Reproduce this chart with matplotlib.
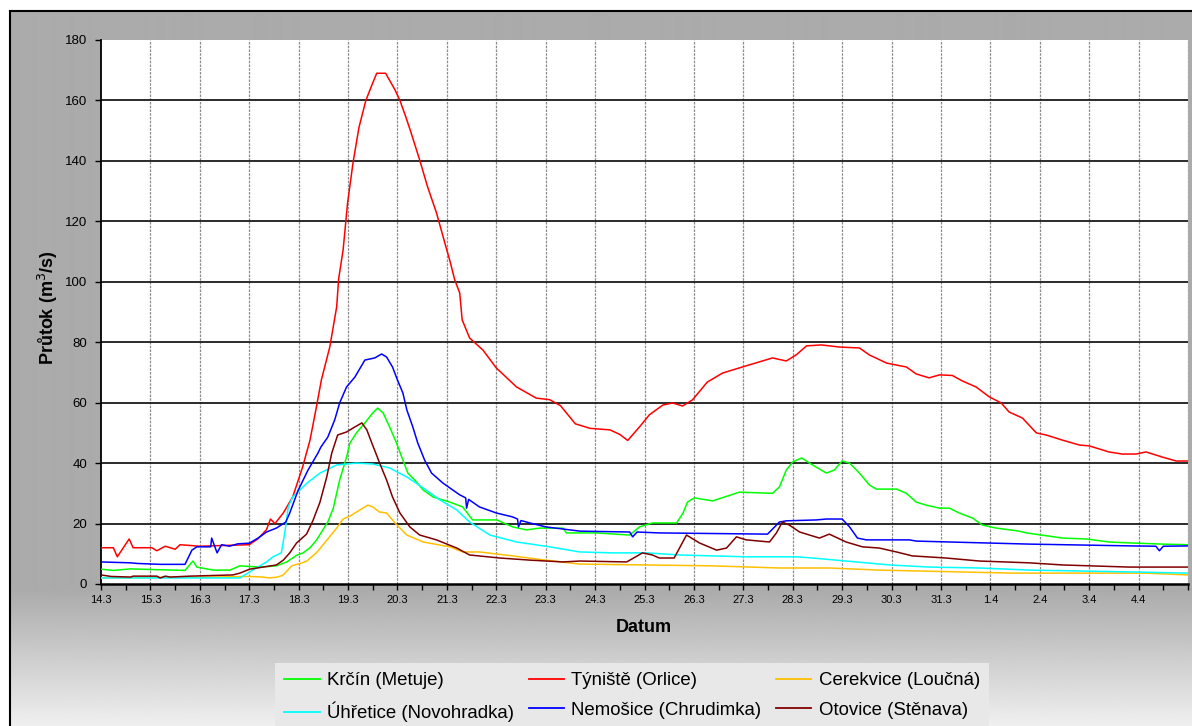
# flow chart - průtoky březen/duben
import numpy as np
import matplotlib
matplotlib.use("Agg")
import matplotlib.pyplot as plt
from matplotlib.ticker import MultipleLocator


# DATA (days counted from 14.3)

tick_labels = ["14.3", "15.3", "16.3", "17.3", "18.3", "19.3", "20.3", "21.3", "22.3", "23.3",
               "24.3", "25.3", "26.3", "27.3", "28.3", "29.3", "30.3", "31.3", "1.4", "2.4",
               "3.4", "4.4", ""]

krcin_days = [0, 0.25, 0.6, 1.0, 1.7, 1.86, 1.94, 2.27, 2.61, 2.81, 3.22, 3.55, 3.76, 3.96, 4.09,
              4.23, 4.36, 4.59, 4.7, 4.83, 4.97, 5.04, 5.17, 5.34, 5.5, 5.6, 5.71, 5.84, 5.98,
              6.11, 6.21, 6.35, 6.52, 6.72, 7.06, 7.32, 7.52, 8.01, 8.33, 8.61, 8.88, 9.35, 9.42,
              10.03, 10.7, 10.9, 11.16, 11.65, 11.78, 11.87, 12.01, 12.38, 12.92, 13.59, 13.73,
              13.87, 14.0, 14.18, 14.4, 14.68, 14.84, 15.0, 15.15, 15.35, 15.55, 15.69, 16.1,
              16.3, 16.5, 16.7, 16.97, 17.17, 17.37, 17.64, 17.84, 18.12, 18.58, 18.73, 19.46,
              19.94, 20.4, 20.81, 21.48, 22]
krcin = [4.9, 4.5, 5.0, 4.8, 4.5, 7.6, 5.6, 4.6, 4.6, 6.0, 5.6, 6.0, 7.3, 9.5, 10.3,
         12.0, 14.5, 20.5, 25.0, 34.4, 42.0, 46.7, 50.0, 53.3, 56.6, 58.2, 56.6, 52.0, 46.7,
         41.0, 36.7, 34.4, 31.1, 28.8, 27.1, 25.5, 21.2, 21.2, 18.9, 17.9, 18.5, 18.5, 16.9,
         16.9, 16.2, 18.9, 20.2, 20.2, 23.5, 27.1, 28.5, 27.5, 30.4, 30.0, 32.1,
         37.7, 40.4, 41.7, 39.4, 36.7, 37.7, 40.7, 40.0, 36.7, 32.8, 31.4, 31.4,
         30.0, 27.1, 26.1, 25.1, 25.1, 23.5, 21.8, 19.5, 18.5, 17.5, 16.9, 15.2,
         14.9, 13.9, 13.6, 13.2, 13.0]

tyniste_days = [0, 0.25, 0.33, 0.57, 0.65, 1.03, 1.13, 1.3, 1.5, 1.6, 2.0, 3.0, 3.18, 3.35, 3.43,
                3.52, 3.69, 3.88, 4.08, 4.23, 4.36, 4.46, 4.63, 4.77, 4.81, 4.9, 4.99, 5.1, 5.22,
                5.36, 5.48, 5.58, 5.76, 5.95, 6.05, 6.17, 6.27, 6.45, 6.61, 6.79, 6.96, 7.06, 7.16,
                7.26, 7.31, 7.46, 7.73, 8.0, 8.41, 8.81, 9.08, 9.3, 9.6, 9.9, 10.3, 10.5, 10.66,
                10.9, 11.1, 11.37, 11.57, 11.77, 11.97, 12.27, 12.58, 12.98, 13.59, 13.87, 14.07,
                14.28, 14.58, 14.95, 15.35, 15.55, 15.9, 16.3, 16.5, 16.76, 16.97, 17.23, 17.43,
                17.71, 17.98, 18.22, 18.38, 18.65, 18.93, 19.13, 19.46, 19.8, 20.0, 20.4, 20.67,
                20.95, 21.15, 21.48, 21.76, 22]
tyniste = [12.0, 12.0, 9.0, 14.9, 12.0, 12.0, 11.0, 12.5, 11.5, 13.0, 12.5, 13.0, 15.0, 18.0, 21.5,
           20.0, 23.5, 28.8, 38.7, 47.6, 58.6, 67.5, 78.4, 91.7, 101.0, 110.5, 126.0, 139.3, 151.0,
           160.0, 165.0, 169.0, 169.0, 163.5, 160.0, 154.5, 149.6, 140.3, 131.4, 122.8, 112.8, 107.0, 100.6,
           96.3, 87.4, 81.4, 77.4, 71.5, 65.2, 61.5, 61.0, 59.0, 53.0, 51.5, 51.0, 49.5, 47.5,
           52.0, 56.0, 59.2, 59.9, 58.9, 60.9, 66.8, 69.8, 71.8, 74.8, 73.8, 75.8,
           78.8, 79.1, 78.4, 78.1, 75.8, 73.1, 71.8, 69.5, 68.2, 69.2, 69.0, 67.2,
           65.2, 61.9, 59.9, 56.9, 54.9, 50.0, 49.3, 47.6, 46.0, 45.7, 43.7, 43.0,
           43.0, 43.7, 42.0, 40.7, 40.7]

cerekvice_days = [0, 2.27, 3.0, 3.28, 3.4, 3.58, 3.69, 3.86, 4.03, 4.16, 4.37, 4.57, 4.77, 4.9,
                  5.04, 5.24, 5.4, 5.5, 5.64, 5.78, 5.95, 6.19, 6.52, 7.06, 7.32, 7.66, 8.33, 9.0,
                  9.69, 11.04, 12.38, 13.73, 14.74, 15.75, 18.44, 21.15, 22]
cerekvice = [2.0, 2.3, 2.5, 2.3, 2.0, 2.3, 3.0, 6.0, 6.8, 7.5, 10.5, 14.5, 18.5, 21.5,
             22.5, 24.5, 26.1, 25.5, 23.8, 23.5, 20.2, 16.2, 13.9, 12.3, 10.6, 10.6, 9.3, 7.9,
             6.6, 6.3, 6.0, 5.3, 5.3, 4.6, 3.6, 3.6, 3.0]

uhretice_days = [0, 2.81, 3.01, 3.35, 3.48, 3.65, 3.72, 3.79, 3.88, 4.17, 4.43, 4.77, 5.17, 5.5,
                 5.84, 6.19, 6.52, 6.86, 7.2, 7.46, 7.87, 8.41, 9.08, 9.69, 10.35, 11.04, 11.71,
                 12.38, 13.06, 14.07, 14.4, 15.08, 15.96, 16.76, 17.78, 18.79, 19.8, 20.81, 22]
uhretice = [2.0, 2.0, 4.0, 7.3, 9.0, 10.3, 17.0, 25.5, 28.8, 33.4, 36.7, 39.4, 40.0, 39.7,
            38.4, 35.4, 31.8, 27.8, 24.5, 20.5, 16.2, 13.9, 12.3, 10.6, 10.3, 10.3, 9.6,
            9.3, 9.0, 9.0, 8.6, 7.6, 6.3, 5.6, 5.3, 4.6, 4.3, 4.0, 3.6]

nemosice_days = [0, 0.6, 0.73, 1.2, 1.7, 1.84, 1.94, 2.22, 2.24, 2.3, 2.35, 2.44, 2.6, 2.77, 3.0,
                 3.18, 3.35, 3.55, 3.74, 3.82, 3.99, 4.19, 4.39, 4.45, 4.59, 4.73, 4.83, 4.97,
                 5.14, 5.34, 5.54, 5.68, 5.78, 5.9, 6.0, 6.11, 6.19, 6.31, 6.41, 6.55, 6.69, 6.92,
                 7.12, 7.26, 7.38, 7.4, 7.44, 7.66, 8.0, 8.33, 8.43, 8.45, 8.5, 8.68, 9.0, 9.69,
                 10.7, 10.76, 10.85, 11.3, 13.49, 13.73, 13.87, 14.48, 14.68, 15.0, 15.15, 15.31,
                 15.49, 16.36, 16.5, 17.17, 18.79, 20.87, 21.35, 21.42, 21.5, 22]
nemosice = [7.3, 7.0, 6.8, 6.5, 6.5, 11.2, 12.3, 12.3, 15.2, 12.5, 10.3, 13.0, 12.5, 13.3, 13.5,
            15.2, 17.2, 18.5, 20.5, 23.5, 31.0, 37.7, 43.3, 45.3, 48.6, 54.3, 59.9, 65.2,
            68.5, 74.1, 74.8, 76.1, 75.1, 71.8, 67.5, 63.2, 57.6, 52.0, 46.7, 41.0, 36.7, 33.4,
            31.1, 29.5, 28.5, 25.1, 28.0, 25.5, 23.5, 22.2, 21.5, 18.9, 21.0, 20.2, 18.9, 17.5,
            17.2, 15.6, 17.2, 16.9, 16.5, 20.5, 20.9, 21.2, 21.5, 21.5, 18.9, 15.2,
            14.6, 14.6, 14.2, 13.9, 13.2, 12.6, 12.5, 11.0, 12.5, 12.6]

otovice_days = [0, 0.2, 0.6, 0.65, 1.13, 1.2, 1.3, 1.4, 1.8, 2.67, 2.81, 3.01, 3.28, 3.55, 3.69,
                3.82, 3.96, 4.16, 4.29, 4.43, 4.57, 4.67, 4.79, 4.97, 5.1, 5.28, 5.38, 5.48, 5.64,
                5.78, 5.9, 6.05, 6.25, 6.45, 6.79, 7.2, 7.46, 8.07, 8.68, 9.35, 9.69, 10.64, 10.96,
                11.16, 11.3, 11.6, 11.85, 12.11, 12.46, 12.66, 12.86, 13.06, 13.53, 13.67, 13.79,
                13.93, 14.14, 14.54, 14.74, 15.08, 15.41, 15.75, 16.1, 16.42, 17.1, 17.78, 18.79,
                19.46, 20.81, 22]
otovice = [3.0, 2.5, 2.3, 2.6, 2.6, 2.0, 2.6, 2.3, 2.6, 3.0, 3.6, 4.9, 5.6, 6.3, 7.9,
           10.3, 13.6, 16.5, 21.0, 27.0, 35.5, 43.3, 49.3, 50.3, 51.6, 53.3, 51.0, 46.7, 40.0,
           34.4, 28.8, 23.5, 18.9, 16.2, 14.6, 11.9, 9.6, 8.6, 7.9, 7.3, 7.6, 7.3, 10.3,
           9.6, 8.6, 8.6, 16.2, 13.6, 11.2, 11.9, 15.6, 14.6, 13.9, 16.9, 20.5,
           19.5, 17.2, 15.2, 16.5, 13.9, 12.3, 11.9, 10.6, 9.3, 8.6, 7.6, 7.0,
           6.3, 5.6, 5.6]

series = [
    ("Krčín (Metuje)", krcin_days, krcin, "#00FF00"),
    ("Týniště (Orlice)", tyniste_days, tyniste, "#FF0000"),
    ("Cerekvice (Loučná)", cerekvice_days, cerekvice, "#FFC000"),
    ("Úhřetice (Novohradka)", uhretice_days, uhretice, "#00FFFF"),
    ("Nemošice (Chrudimka)", nemosice_days, nemosice, "#0000FF"),
    ("Otovice (Stěnava)", otovice_days, otovice, "#800000"),
]


# FIGURE

plt.rcParams["font.family"] = ["Liberation Sans", "DejaVu Sans"]

W, H = 1192, 726
fig = plt.figure(figsize = (W / 100, H / 100), dpi = 100)
fig.patch.set_facecolor("white")

# gray background with a light gradient at the bottom
bg = fig.add_axes([10 / W, 0, 1 - 10 / W, (H - 11) / H], zorder = -10)
ypx = np.arange(11, H)
shade = np.where(ypx < 590, 0.67, 0.67 + (ypx - 590) / (H - 590) * 0.27)
bg.imshow(shade[:, None], cmap = "gray", vmin = 0, vmax = 1, aspect = "auto",
          extent = [0, 1, 0, 1], interpolation = "bilinear")
bg.set_xticks([])
bg.set_yticks([])
for side in ["right", "bottom"]:
    bg.spines[side].set_visible(False)
for side in ["left", "top"]:
    bg.spines[side].set_linewidth(1.5)
    bg.spines[side].set_color("black")

# plot area
ax = fig.add_axes([101 / W, 1 - 584 / H, (1188 - 101) / W, (584 - 40) / H])
ax.set_facecolor("white")
ax.set_xlim(0, 22)
ax.set_ylim(0, 180)

for d in range(1, 23):
    ax.axvline(d, color = "#8c8c8c", lw = 0.9, ls = (0, (2, 1)), zorder = 1)
for v in range(20, 180, 20):
    ax.axhline(v, color = "#1a1a1a", lw = 1.3, zorder = 1)

lines = {}
for name, days, vals, color in series:
    lines[name], = ax.plot(days, vals, color = color, lw = 1.1, label = name, zorder = 3)

ax.set_xticks(range(0, 23))
ax.set_xticklabels(tick_labels, fontsize = 8)
ax.xaxis.set_minor_locator(MultipleLocator(0.5))
ax.set_yticks(range(0, 181, 20))
ax.tick_params(axis = "y", labelsize = 9.5, length = 4, width = 1, pad = 6, direction = "out")
ax.tick_params(axis = "x", which = "both", length = 4, width = 1, pad = 4, direction = "out")

for side in ["top", "right"]:
    ax.spines[side].set_visible(False)
ax.spines["left"].set_linewidth(1.3)
ax.spines["bottom"].set_linewidth(1.8)

fig.text(48 / W, 1 - 308 / H, "Průtok (m$^{3}$/s)", rotation = 90, fontsize = 13,
         fontweight = "bold", ha = "center", va = "center")
fig.text(644 / W, 1 - 628 / H, "Datum", fontsize = 13, fontweight = "bold",
         ha = "center", va = "center")

# legend - matplotlib fills by columns, so reorder
order = ["Krčín (Metuje)", "Úhřetice (Novohradka)", "Týniště (Orlice)",
         "Nemošice (Chrudimka)", "Cerekvice (Loučná)", "Otovice (Stěnava)"]
leg = fig.legend([lines[n] for n in order], order, ncol = 3, loc = "upper left",
                 bbox_to_anchor = (275 / W, 1 - 663 / H), frameon = True, fancybox = False,
                 facecolor = "#E8E8E8", edgecolor = "none", framealpha = 1, fontsize = 13.4,
                 handlelength = 1.9, handletextpad = 0.38, columnspacing = 0.8,
                 borderpad = 0.5, labelspacing = 0.66, borderaxespad = 0)
for l in leg.get_lines():
    l.set_linewidth(1.3)

plt.savefig("out.png", dpi = 100)
